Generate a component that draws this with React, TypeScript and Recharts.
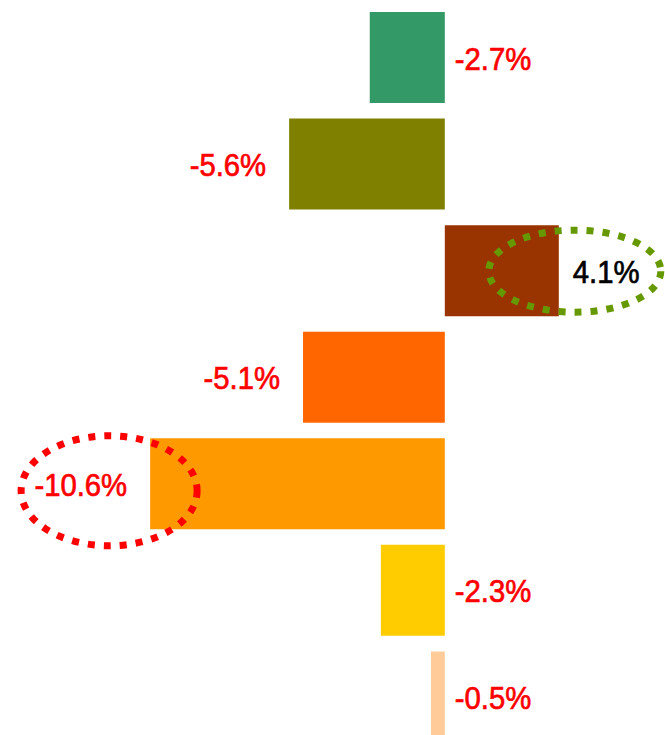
import React from "react";
import { BarChart, Bar, XAxis, YAxis, Cell, LabelList } from "recharts";

const categories = ["C1", "C2", "C3", "C4", "C5", "C6", "C7"];
const values = [-2.7, -5.6, 4.1, -5.1, -10.6, -2.3, -0.5];
const barColors = ["#339966", "#808000", "#993300", "#FF6600", "#FF9900", "#FFCC00", "#FFCC99"];
const labelColors = ["#FF0000", "#FF0000", "#000000", "#FF0000", "#FF0000", "#FF0000", "#FF0000"];

// dotted ellipse annotations (by category index)
const highlights: Record<number, { color: string; dx: number; dy: number; rx: number; ry: number }> = {
  2: { color: "#669900", dx: 16, dy: 0.5, rx: 86, ry: 41 },
  4: { color: "#FF0000", dx: -41, dy: 7, rx: 88, ry: 55 },
};

const data = categories.map((c, i) => ({ name: c, value: values[i] }));

const fmt = (v: number) => `${v.toFixed(1)}%`;

const renderLabel = (props: any) => {
  const { x, y, width, height, value, index } = props;
  const x1 = Number(x);
  const x2 = Number(x) + Number(width);
  const left = Math.min(x1, x2);
  const right = Math.max(x1, x2);
  const cy = Number(y) + Number(height) / 2;
  const v = Number(value);
  let tx: number;
  let anchor: "start" | "end";
  if (v >= 0) {
    tx = right + 14;
    anchor = "start";
  } else if (v > -3) {
    tx = right + 10;
    anchor = "start";
  } else {
    tx = left - 23;
    anchor = "end";
  }
  const hl = highlights[index];
  let ellipse = null;
  if (hl) {
    const ex = v >= 0 ? right + hl.dx : left + hl.dx;
    ellipse = (
      <ellipse
        cx={ex}
        cy={cy + hl.dy}
        rx={hl.rx}
        ry={hl.ry}
        fill="none"
        stroke={hl.color}
        strokeWidth={7}
        strokeDasharray="7 9"
      />
    );
  }
  return (
    <g>
      <text
        transform={`translate(${tx},${cy + 12}) scale(0.915,1)`}
        x={0}
        y={0}
        textAnchor={anchor}
        fill={labelColors[index]}
        stroke={labelColors[index]}
        strokeWidth={0.7}
        fontFamily="'Liberation Sans', Arial, sans-serif"
        fontSize={32}
      >
        {fmt(v)}
      </text>
      {ellipse}
    </g>
  );
};

export default function App() {
  return (
    <div style={{ position: "absolute", left: 0, top: 0, width: 665, height: 735, overflow: "hidden", background: "#fff" }}>
      <BarChart
        width={665}
        height={750}
        data={data}
        layout="vertical"
        margin={{ top: 4, right: 0, left: 0, bottom: 0 }}
      >
        <XAxis type="number" hide domain={[-16, 7.92]} allowDataOverflow />
        <YAxis type="category" dataKey="name" hide />
        <Bar dataKey="value" barSize={91} isAnimationActive={false}>
          {data.map((d, i) => (
            <Cell key={d.name} fill={barColors[i]} />
          ))}
          <LabelList dataKey="value" content={renderLabel} />
        </Bar>
      </BarChart>
    </div>
  );
}
